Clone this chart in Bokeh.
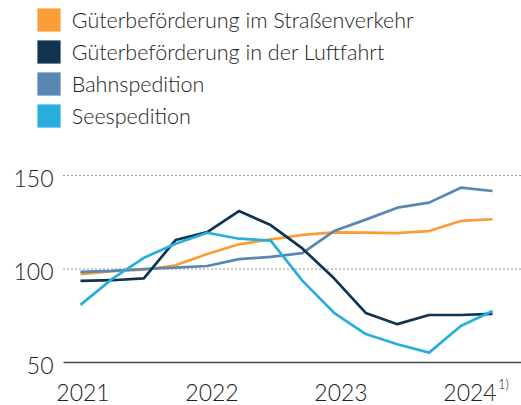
from bokeh.plotting import figure
from bokeh.models import Legend, LegendItem, Range1d
from bokeh.embed import file_html
from bokeh.resources import INLINE

# Quarterly index values, 2021 Q1 .. 2024 Q2
quarters = ["2021 Q1", "2021 Q2", "2021 Q3", "2021 Q4",
            "2022 Q1", "2022 Q2", "2022 Q3", "2022 Q4",
            "2023 Q1", "2023 Q2", "2023 Q3", "2023 Q4",
            "2024 Q1", "2024 Q2"]
strasse = [97.3, 98.8, 99.6, 102.0, 108.0, 113.2, 115.8, 118.2, 119.6, 119.4, 119.2, 120.3, 125.7, 126.6]
luftfahrt = [93.6, 94.0, 95.0, 115.5, 119.7, 131.0, 123.5, 111.0, 95.0, 76.5, 70.5, 75.4, 75.4, 76.0]
bahn = [98.5, 99.0, 100.0, 100.7, 101.6, 105.3, 106.5, 108.5, 120.3, 126.4, 132.8, 135.5, 143.5, 141.7]
see = [80.8, 94.7, 106.0, 113.5, 119.4, 116.2, 115.2, 93.8, 76.6, 65.2, 59.8, 55.3, 69.5, 77.5]

series_names = ["Güterbeförderung im Straßenverkehr",
                "Güterbeförderung in der Luftfahrt",
                "Bahnspedition",
                "Seespedition"]
year_labels = ["2021", "2022", "2023", "2024"]
footnote = "1)"
y_ticks = [50, 100, 150]
grid_ticks = [100, 150]

colors = ["#F99D36", "#0E3452", "#5887B3", "#27AEDF"]
FONT = "Lato Light, Lato"
TXT = "#222222"

x = list(range(len(quarters)))
data = [strasse, luftfahrt, bahn, see]

# the frame covers the whole canvas; axes are drawn by hand
X0, X1 = -2.524, 13.916
AX_START = -0.536
p = figure(width=521, height=405, output_backend="svg", toolbar_location=None,
           x_range=Range1d(X0, X1), y_range=Range1d(27.01, 243.58),
           x_axis_location=None, y_axis_location=None,
           min_border_left=0, min_border_right=0, min_border_top=0,
           min_border_bottom=0)
p.grid.visible = False
p.outline_line_color = None
p.background_fill_color = None
p.border_fill_color = None

# dotted grid lines and solid baseline
p.segment(x0=[AX_START] * len(grid_ticks), x1=[X1] * len(grid_ticks),
          y0=grid_ticks, y1=grid_ticks, line_color="#333333", line_width=1.2,
          line_dash="1 3")
p.segment(x0=[AX_START], x1=[X1], y0=[y_ticks[0]], y1=[y_ticks[0]],
          line_color="#4a4a4a", line_width=1.6)

# series lines
order = [0, 2, 1, 3]
for i in order:
    p.line(x, data[i], line_color=colors[i], line_width=2.7, line_join="round")

# legend swatches: zero-height bars that only feed the legend
items = []
for i, name in enumerate(series_names):
    r = p.vbar(x=x, top=data[i], bottom=data[i], width=0.5, fill_color=colors[i],
               line_color=None)
    items.append(LegendItem(label=name, renderers=[r]))

legend = Legend(items=items, location=(33.8, 275), glyph_width=29, glyph_height=29,
                label_height=29, label_standoff=9, spacing=3, padding=0, margin=0,
                border_line_color=None, background_fill_alpha=0,
                label_text_font=FONT, label_text_font_size="21.5px",
                label_text_color=TXT)
p.add_layout(legend)

# y tick labels
p.text(x=[-0.852] * len(y_ticks), y=y_ticks, text=[str(t) for t in y_ticks],
       y_offset=2.5, text_font={"value": FONT}, text_font_size="23px",
       text_color=TXT, text_align="right", text_baseline="alphabetic")

# x (year) labels
year_pos = [0.08 + 4.07 * i for i in range(len(year_labels))]
label_y = 33.7
p.text(x=year_pos, y=[label_y] * len(year_labels), text=year_labels,
       text_font={"value": FONT}, text_font_size="23px", text_color=TXT,
       text_align="center", text_baseline="alphabetic")
p.text(x=[year_pos[-1]], y=[label_y], text=[footnote], x_offset=28, y_offset=-8.5,
       text_font={"value": FONT}, text_font_size="13px", text_color=TXT,
       text_align="left", text_baseline="alphabetic")

open("out.html", "w").write(file_html(p, INLINE))
